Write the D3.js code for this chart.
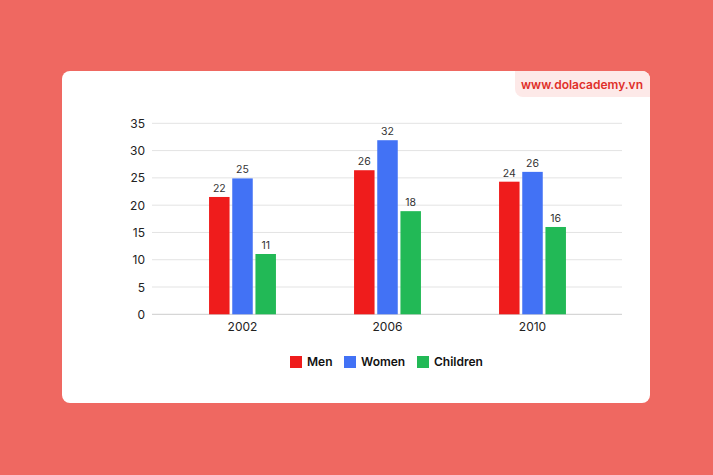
<!DOCTYPE html><html><head><meta charset="utf-8"><script src="https://cdn.jsdelivr.net/npm/d3@7"></script>
<style>body{margin:0;background:#ef6861;font-family:Inter,"Noto Sans",sans-serif}</style></head><body><svg id="c" width="713" height="475"></svg>
<script>
const categories=["2002","2006","2010"];
const seriesNames=["Men","Women","Children"];
const men=[21.5,26.4,24.3];
const women=[24.9,31.9,26.1];
const children=[11.05,18.9,16.0];
const labels=[[22,26,24],[25,32,26],[11,18,16]];
const yTicks=[0,5,10,15,20,25,30,35];
const colors=["#ef1c1c","#4272f5","#22b956"];
const series=[men,women,children];
const svg=d3.select("#c");
svg.append("rect").attr("width",713).attr("height",475).attr("fill","#ef6861");
svg.append("rect").attr("x",62).attr("y",71).attr("width",588).attr("height",332).attr("rx",8).attr("fill","#fff");
svg.append("path").attr("d","M515,71 H642 a8,8 0 0 1 8,8 V97 H523 a8,8 0 0 1 -8,-8 Z").attr("fill","#fde9e8");
svg.append("text").attr("x",582).attr("y",88.5).attr("text-anchor","middle").attr("font-size",12).attr("font-weight",600).attr("fill","#e0302a").text("www.dolacademy.vn");
const y=d3.scaleLinear().domain([0,35]).range([314.3,123.3]);
const x=d3.scaleBand().domain(categories).range([170,605]);
const g=svg.append("g");
yTicks.forEach(t=>{g.append("line").attr("x1",152).attr("x2",622).attr("y1",y(t)).attr("y2",y(t)).attr("stroke",t===0?"#ccc":"#e3e3e3").attr("stroke-width",1);
g.append("text").attr("x",145).attr("y",y(t)+4.5).attr("text-anchor","end").attr("font-size",12).attr("fill","#222").text(t);});
const bw=20.5,gap=2.7;
categories.forEach((c,i)=>{const cx=x(c)+x.bandwidth()/2;
series.forEach((s,k)=>{const x0=cx-1.5*bw-gap+k*(bw+gap);
g.append("rect").attr("x",x0).attr("y",y(s[i])).attr("width",bw).attr("height",y(0)-y(s[i])).attr("fill",colors[k]);
g.append("text").attr("x",x0+bw/2).attr("y",y(s[i])-5).attr("text-anchor","middle").attr("font-size",10.5).attr("fill","#333").text(labels[k][i]);});
g.append("text").attr("x",cx).attr("y",331).attr("text-anchor","middle").attr("font-size",12).attr("fill","#222").text(c);});
const lx=[290,344,417];
seriesNames.forEach((n,k)=>{svg.append("rect").attr("x",lx[k]).attr("y",356).attr("width",12).attr("height",12).attr("fill",colors[k]);
svg.append("text").attr("x",lx[k]+17).attr("y",366).attr("font-size",12).attr("font-weight",600).attr("fill","#111").text(n);});
</script></body></html>
